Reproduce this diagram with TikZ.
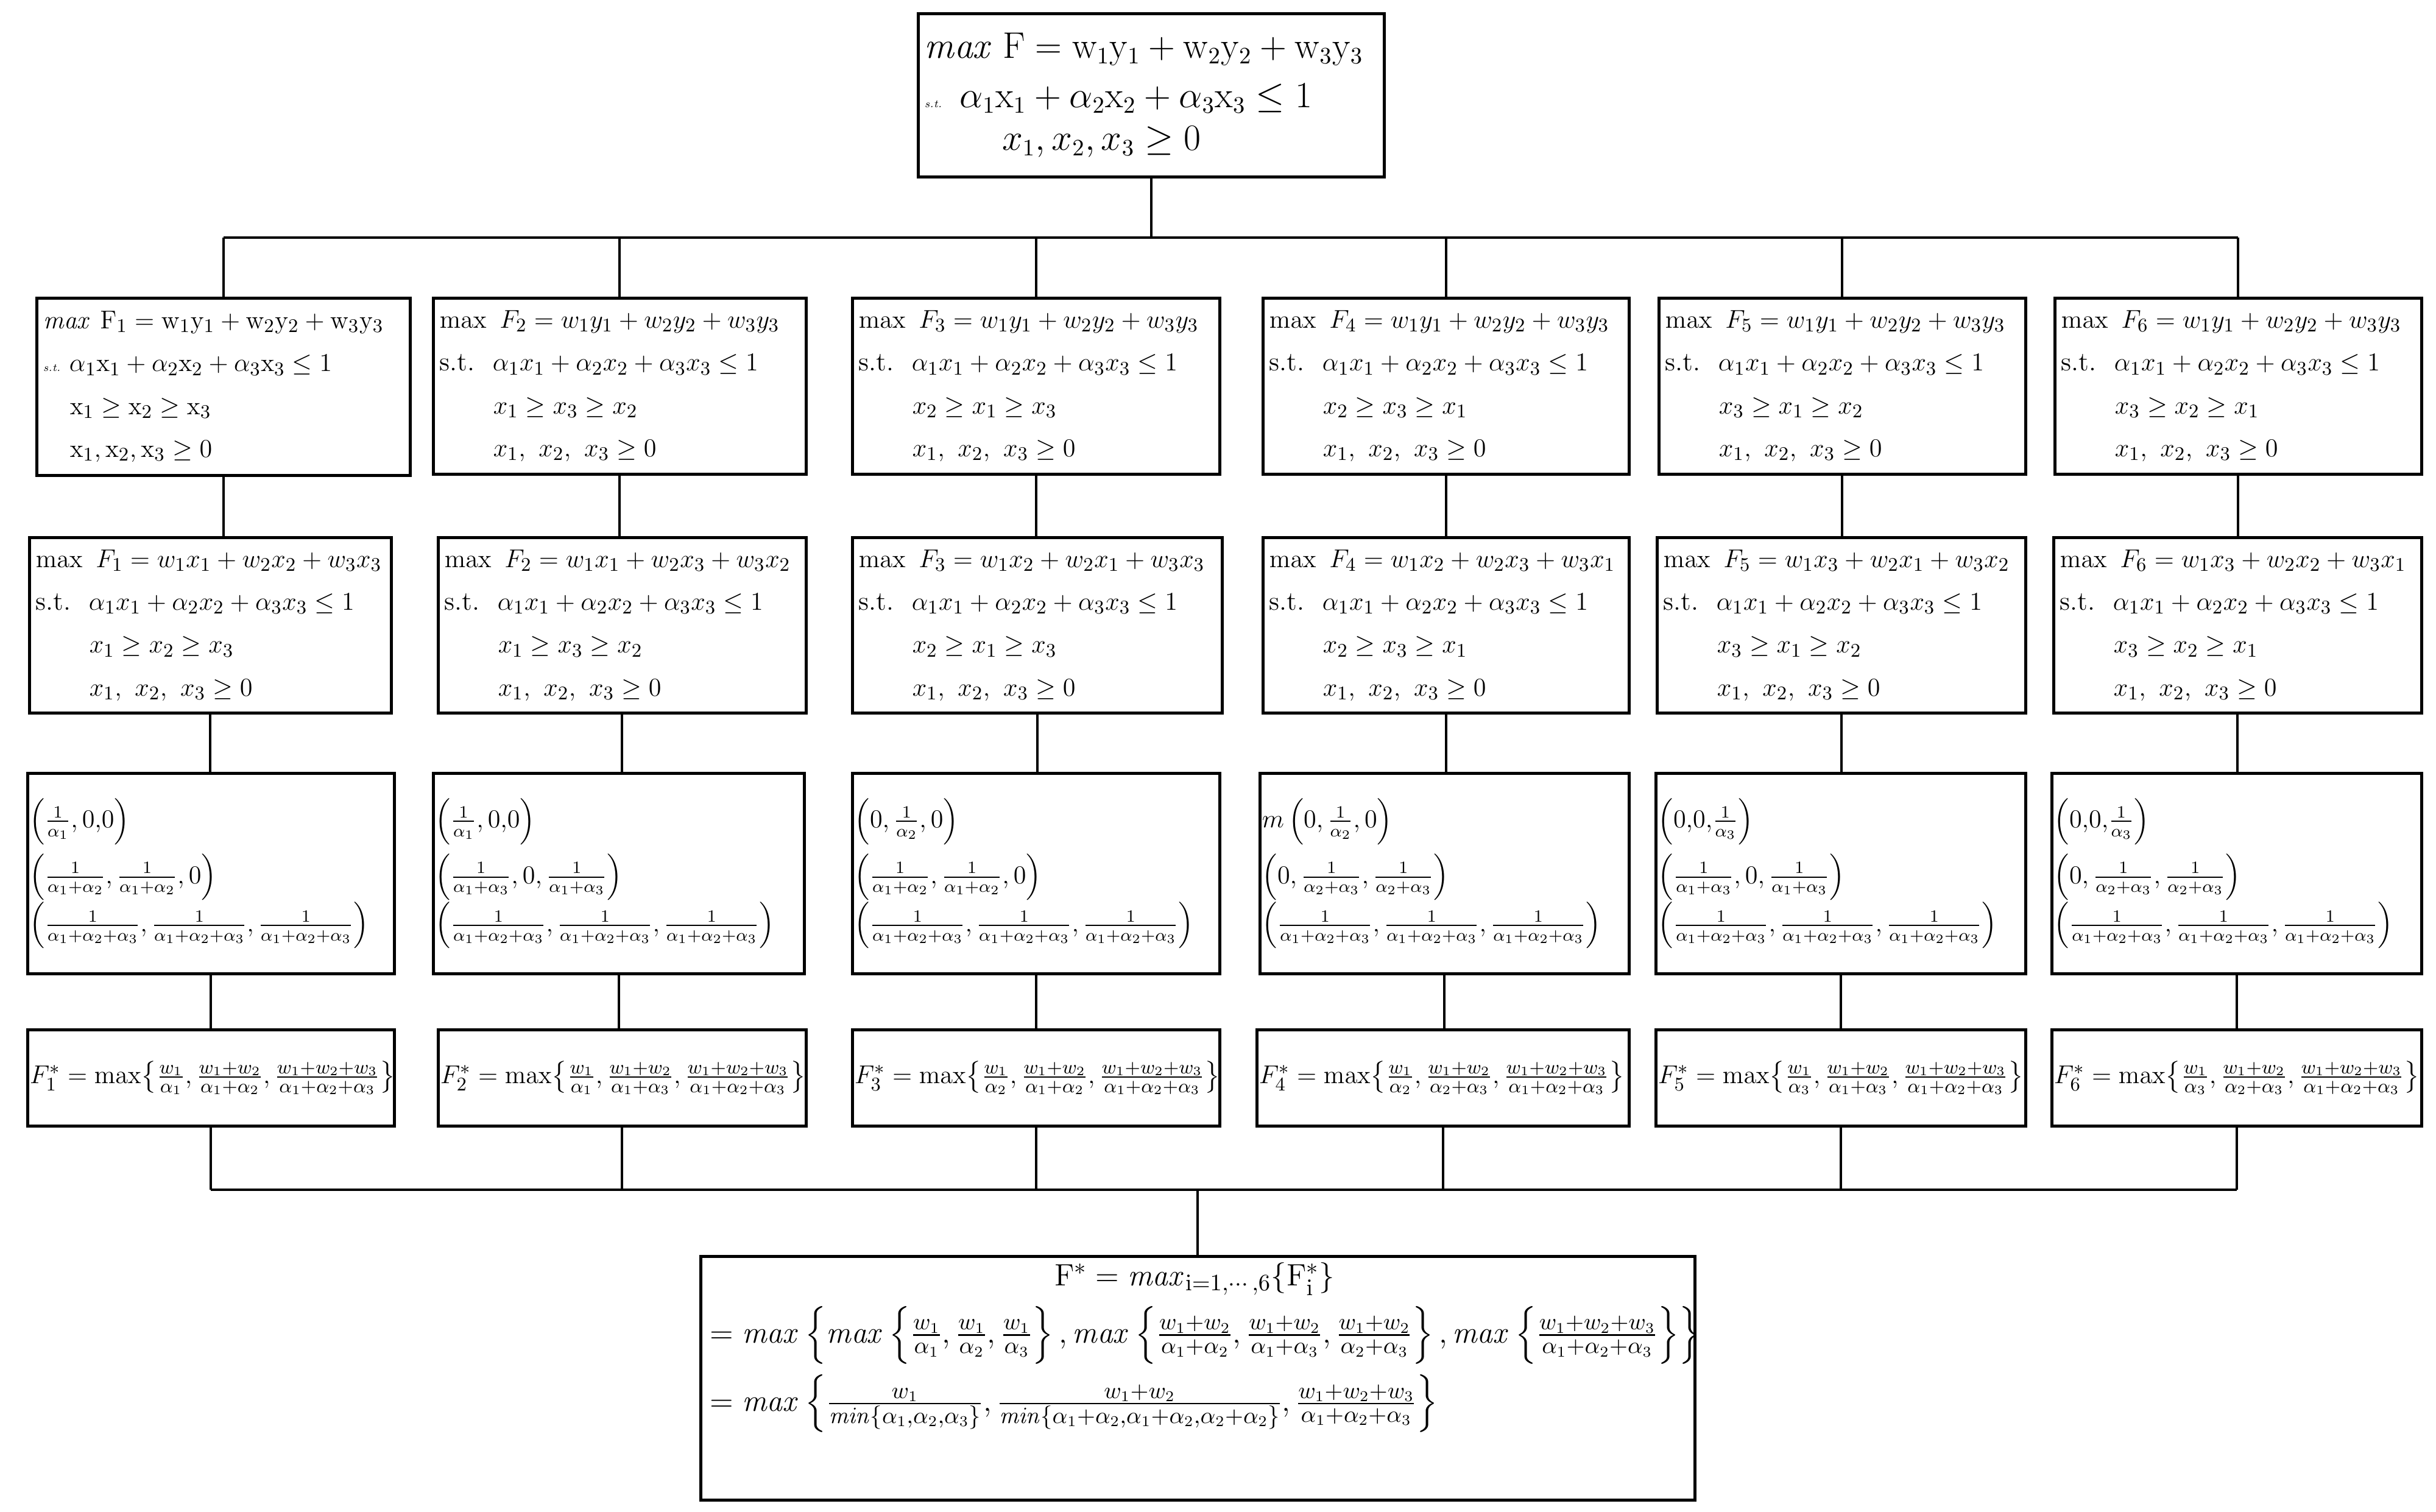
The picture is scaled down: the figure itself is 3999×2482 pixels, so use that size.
\documentclass[tikz,border=0pt]{standalone}
\usepackage{amsmath,amssymb,graphicx}
\begin{document}
\newcommand\Sa{\alpha_1{+}\alpha_2{+}\alpha_3}
\newcommand\Sw{w_1{+}w_2{+}w_3}
\newcommand\rx{\mathrm{x}}
\newcommand\ry{\mathrm{y}}
\newcommand\rw{\mathrm{w}}
\newcommand\ind{\hspace*{2em}}
\newcommand\mybox[6]{%
 \pgfmathsetlengthmacro\bw{(#4-#2)*0.01cm}%
 \pgfmathsetlengthmacro\bh{(#5-#3)*0.01cm}%
 \pgfmathsetlengthmacro\tw{(#4-#2)*0.01cm-6pt}%
 \node[box,minimum width=\bw,minimum height=\bh,text width=\tw,anchor=north west] (#1) at (#2,#3) {#6};}
\begin{tikzpicture}[x=0.01cm,y=-0.01cm,
 box/.style={draw,line width=1.3pt,inner xsep=3pt,inner ysep=2pt,align=left,font=\fontsize{12.5}{20}\selectfont},
 ln/.style={line width=1.1pt}]
\useasboundingbox (0,0) rectangle (3999,2482);
% top
\mybox{top}{1505}{20}{2270}{288}{\fontsize{16}{23}\selectfont
$\mathit{max}\ \mathrm{F}=\rw_1\ry_1+\rw_2\ry_2+\rw_3\ry_3$\\
{\tiny\itshape s.t.}\ \ $\alpha_1\rx_1+\alpha_2\rx_2+\alpha_3\rx_3\le 1$\\
\ind\ $x_1,x_2,x_3\ge 0$}
% row 1
\mybox{r1a}{58}{487}{671}{778}{$\mathit{max}\ \mathrm{F}_1=\rw_1\ry_1+\rw_2\ry_2+\rw_3\ry_3$\\
{\tiny\itshape s.t.}\ $\alpha_1\rx_1+\alpha_2\rx_2+\alpha_3\rx_3\le 1$\\
\hspace*{1em}$\rx_1\ge\rx_2\ge\rx_3$\\
\hspace*{1em}$\rx_1,\rx_2,\rx_3\ge 0$}
\newcommand\rone[5]{\mybox{#1}{#2}{487}{#3}{776}{$\max\ F_#4=w_1y_1+w_2y_2+w_3y_3$\\
s.t.\ \ $\alpha_1x_1+\alpha_2x_2+\alpha_3x_3\le 1$\\
\ind$#5$\\
\ind$x_1,\ x_2,\ x_3\ge 0$}}
\rone{r1b}{709}{1321}{2}{x_1\ge x_3\ge x_2}
\rone{r1c}{1397}{2000}{3}{x_2\ge x_1\ge x_3}
\rone{r1d}{2071}{2672}{4}{x_2\ge x_3\ge x_1}
\rone{r1e}{2721}{3323}{5}{x_3\ge x_1\ge x_2}
\rone{r1f}{3371}{3973}{6}{x_3\ge x_2\ge x_1}
% row 2
\newcommand\rtwo[6]{\mybox{#1}{#2}{880}{#3}{1168}{$\max\ F_#4=#5$\\
s.t.\ \ $\alpha_1x_1+\alpha_2x_2+\alpha_3x_3\le 1$\\
\ind$#6$\\
\ind$x_1,\ x_2,\ x_3\ge 0$}}
\rtwo{r2a}{46}{640}{1}{w_1x_1+w_2x_2+w_3x_3}{x_1\ge x_2\ge x_3}
\rtwo{r2b}{717}{1321}{2}{w_1x_1+w_2x_3+w_3x_2}{x_1\ge x_3\ge x_2}
\rtwo{r2c}{1397}{2004}{3}{w_1x_2+w_2x_1+w_3x_3}{x_2\ge x_1\ge x_3}
\rtwo{r2d}{2071}{2672}{4}{w_1x_2+w_2x_3+w_3x_1}{x_2\ge x_3\ge x_1}
\rtwo{r2e}{2718}{3323}{5}{w_1x_3+w_2x_1+w_3x_2}{x_3\ge x_1\ge x_2}
\rtwo{r2f}{3369}{3973}{6}{w_1x_3+w_2x_2+w_3x_1}{x_3\ge x_2\ge x_1}
% row 3
\newcommand\lastline{$\!\left(\frac{1}{\Sa},\frac{1}{\Sa},\frac{1}{\Sa}\right)$}
\newcommand\rthree[5]{\mybox{#1}{#2}{1267}{#3}{1596}{\fontsize{12}{26}\selectfont
$\!#4$\\ $\!#5$\\ \lastline}}
\rthree{r3a}{43}{645}{\left(\frac{1}{\alpha_1},0{,}0\right)}{\left(\frac{1}{\alpha_1+\alpha_2},\frac{1}{\alpha_1+\alpha_2},0\right)}
\rthree{r3b}{709}{1318}{\left(\frac{1}{\alpha_1},0{,}0\right)}{\left(\frac{1}{\alpha_1+\alpha_3},0,\frac{1}{\alpha_1+\alpha_3}\right)}
\rthree{r3c}{1397}{2000}{\left(0,\frac{1}{\alpha_2},0\right)}{\left(\frac{1}{\alpha_1+\alpha_2},\frac{1}{\alpha_1+\alpha_2},0\right)}
\rthree{r3d}{2066}{2672}{m\left(0,\frac{1}{\alpha_2},0\right)}{\left(0,\frac{1}{\alpha_2+\alpha_3},\frac{1}{\alpha_2+\alpha_3}\right)}
\rthree{r3e}{2716}{3323}{\left(0{,}0{,}\frac{1}{\alpha_3}\right)}{\left(\frac{1}{\alpha_1+\alpha_3},0,\frac{1}{\alpha_1+\alpha_3}\right)}
\rthree{r3f}{3366}{3973}{\left(0{,}0{,}\frac{1}{\alpha_3}\right)}{\left(0,\frac{1}{\alpha_2+\alpha_3},\frac{1}{\alpha_2+\alpha_3}\right)}
% row 4
\newcommand\rfour[6]{\mybox{#1}{#2}{1688}{#3}{1846}{\mbox{$\!F_#4^*=\max\!\left\{\frac{w_1}{#5},\frac{w_1+w_2}{#6},\frac{\Sw}{\Sa}\right\}$}}}
\rfour{r4a}{43}{645}{1}{\alpha_1}{\alpha_1+\alpha_2}
\rfour{r4b}{717}{1321}{2}{\alpha_1}{\alpha_1+\alpha_3}
\rfour{r4c}{1397}{2000}{3}{\alpha_2}{\alpha_1+\alpha_2}
\rfour{r4d}{2061}{2672}{4}{\alpha_2}{\alpha_2+\alpha_3}
\rfour{r4e}{2716}{3323}{5}{\alpha_3}{\alpha_1+\alpha_3}
\rfour{r4f}{3366}{3973}{6}{\alpha_3}{\alpha_2+\alpha_3}
% bottom
\mybox{bot}{1148}{2060}{2780}{2460}{}
\node[anchor=north west,text width=15.9cm,align=left,inner sep=0pt,font=\fontsize{15}{21}\selectfont] (bott) at (1165,2072) {%
\makebox[\linewidth][c]{$\mathrm{F}^*=\mathit{max}_{\mathrm{i}=1,\cdots,6}\{\mathrm{F}_{\mathrm{i}}^*\}$}\\[4pt]
$=\mathit{max}\left\{\mathit{max}\left\{\frac{w_1}{\alpha_1},\frac{w_1}{\alpha_2},\frac{w_1}{\alpha_3}\right\},\mathit{max}\left\{\frac{w_1+w_2}{\alpha_1+\alpha_2},\frac{w_1+w_2}{\alpha_1+\alpha_3},\frac{w_1+w_2}{\alpha_2+\alpha_3}\right\},\mathit{max}\left\{\frac{\Sw}{\Sa}\right\}\right\}$\\[4pt]
$=\mathit{max}\left\{\frac{w_1}{\mathit{min}\{\alpha_1,\alpha_2,\alpha_3\}},\frac{w_1+w_2}{\mathit{min}\{\alpha_1+\alpha_2,\alpha_1+\alpha_2,\alpha_2+\alpha_2\}},\frac{\Sw}{\Sa}\right\}$};
% connectors
\coordinate (busT) at (0,390);
\coordinate (busB) at (0,1953);
\draw[ln] (top.south) -- (top.south |- busT);
\draw[ln] (r1a.north |- busT) -- (r1f.north |- busT);
\foreach \c in {a,b,c,d,e,f}{
 \draw[ln] (r1\c.north |- busT) -- (r1\c.north);
 \draw[ln] (r1\c.south) -- (r1\c.south |- r2\c.north);
 \draw[ln] (r2\c.south) -- (r2\c.south |- r3\c.north);
 \draw[ln] (r3\c.south) -- (r3\c.south |- r4\c.north);
 \draw[ln] (r4\c.south) -- (r4\c.south |- busB);}
\draw[ln] (r4a.south |- busB) -- (r4f.south |- busB);
\draw[ln] (busB -| bot.north) -- (bot.north);
\end{tikzpicture}
\end{document}
